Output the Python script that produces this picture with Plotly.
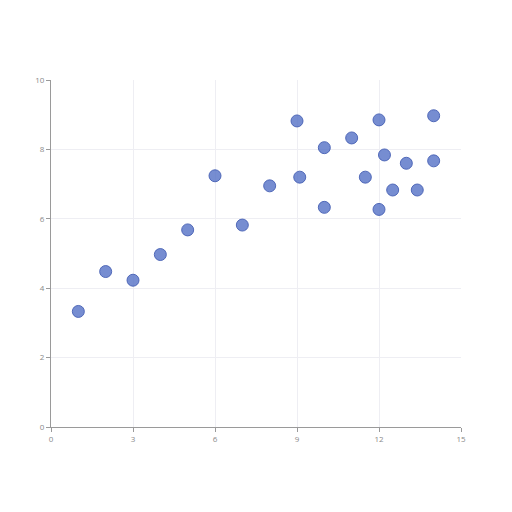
import plotly.graph_objects as go

# scatter points
x_vals = [1, 2, 3, 4, 5, 6, 7, 8, 9, 9.1, 10, 10, 11, 11.5, 12, 12, 12.2, 12.5, 13, 13.4, 14, 14]
y_vals = [3.33, 4.48, 4.23, 4.97, 5.68, 7.24, 5.82, 6.95, 8.82, 7.20, 8.05, 6.33, 8.33, 7.20,
          8.85, 6.27, 7.84, 6.83, 7.60, 6.83, 8.97, 7.67]

fig = go.Figure(go.Scatter(
    x=x_vals, y=y_vals, mode="markers",
    marker=dict(size=12, color="rgba(84,112,198,0.8)",
                line=dict(color="rgba(70,95,180,0.9)", width=1)),
    showlegend=False, hoverinfo="x+y",
))

axis_common = dict(
    showgrid=True, gridcolor="#eeeef3", gridwidth=1,
    showline=True, linecolor="#9a9a9a", linewidth=1,
    ticks="outside", ticklen=4, tickcolor="#9a9a9a",
    tickfont=dict(size=8, color="#8a8a8a", family="Open Sans"),
    zeroline=False, fixedrange=True,
)

fig.update_xaxes(range=[0, 15], dtick=3, tick0=0, **axis_common)
fig.update_yaxes(range=[0, 10], dtick=2, tick0=0, **axis_common)

# page body adds an 8px offset, so margins are shifted to compensate
fig.update_layout(
    width=512, height=512,
    plot_bgcolor="white", paper_bgcolor="white",
    margin=dict(l=43, r=59, t=72, b=93),
)

fig.write_html("out.html")
